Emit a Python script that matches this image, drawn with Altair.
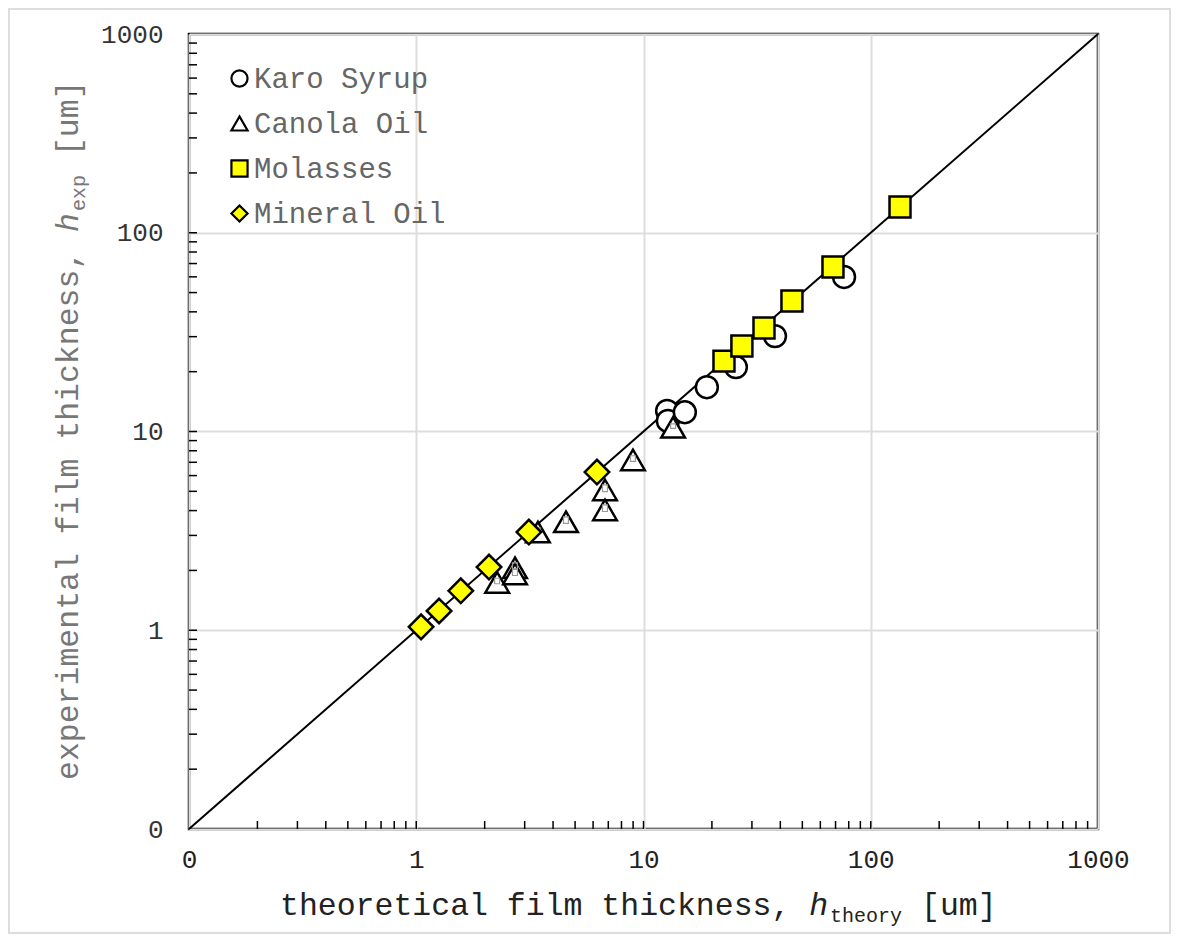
import altair as alt
import pandas as pd

# ---------------- data ----------------
SERIES = ["Karo Syrup", "Canola Oil", "Molasses", "Mineral Oil"]

KARO_X = [12.7, 12.8, 15.2, 19.0, 25.5, 37.9, 76.3]
KARO_Y = [12.7, 11.3, 12.5, 16.7, 21.1, 30.2, 59.9]

CANOLA_X = [2.27, 2.72, 2.72, 3.43, 4.56, 6.77, 6.77, 8.99, 13.5]
CANOLA_Y = [1.74, 2.06, 1.92, 3.12, 3.51, 5.08, 4.03, 7.19, 10.5]
CANOLA_ERR = [0.05, 0.06, 0.06, 0.05, 0.06, 0.06, 0.06, 0.05, 0.04]  # relative error

MOLASSES_X = [22.6, 27.1, 33.9, 45.0, 68.2, 134.5]
MOLASSES_Y = [22.6, 26.9, 33.2, 45.4, 67.3, 134.8]

MINERAL_X = [1.05, 1.26, 1.57, 2.09, 3.13, 6.24]
MINERAL_Y = [1.04, 1.25, 1.58, 2.08, 3.12, 6.25]

LINE_X = [0.1, 1000]
LINE_Y = [0.1, 1000]

MAJOR_TICKS = [0.1, 1, 10, 100, 1000]
MINOR_TICKS = [0.2, 0.3, 0.4, 0.5, 0.6, 0.7, 0.8, 0.9, 1,
               2, 3, 4, 5, 6, 7, 8, 9, 10,
               20, 30, 40, 50, 60, 70, 80, 90, 100,
               200, 300, 400, 500, 600, 700, 800, 900]

X_TITLE = ["theoretical film thickness,", "h", "theory", "[um]"]
Y_TITLE = ["experimental film thickness,", "h", "exp", "[um]"]

# ---------------- layout / style ----------------
W, H = 909, 795
FONT = "Liberation Mono"
FS_T = 31.5          # title font size
CW = FS_T * 0.6      # monospace advance
FS_SUB = 20
SUBW = FS_SUB * 0.6

SHAPES = ["circle", "triangle-up", "square", "diamond"]
FILLS = ["white", "white", "#ffff00", "#ffff00"]
STROKES = ["black", "black", "black", "black"]
SIZES = [480, 560, 440, 600]

XS = alt.Scale(type="log", domain=[0.1, 1000], nice=False)
YS = alt.Scale(type="log", domain=[0.1, 1000], nice=False)
LABEL_EXPR = "datum.value < 0.5 ? '0' : format(datum.value, 'd')"

AX_X = alt.Axis(values=MAJOR_TICKS, labelExpr=LABEL_EXPR, ticks=False, tickSize=0,
                domain=False, grid=True, gridColor="#dddddd", gridWidth=2,
                labelFont=FONT, labelFontSize=26, labelColor="#222222",
                labelPadding=17, labelFlush=False, labelOverlap=False, title=None)
AX_Y = alt.Axis(values=MAJOR_TICKS, labelExpr=LABEL_EXPR, ticks=False, tickSize=0,
                domain=False, grid=True, gridColor="#dddddd", gridWidth=2,
                labelFont=FONT, labelFontSize=26, labelColor="#333333",
                labelPadding=26, labelFlush=False, labelOverlap=False, title=None)

LEG = alt.Legend(orient="none", legendX=36, legendY=30, title=None, padding=0,
                 symbolSize=260, symbolStrokeWidth=2.2, symbolStrokeColor="black",
                 labelFont=FONT, labelFontSize=29, labelColor="#666666",
                 labelOffset=0, rowPadding=15, labelLimit=400)
SHAPE_SCALE = alt.Scale(domain=SERIES, range=SHAPES)
FILL_SCALE = alt.Scale(domain=SERIES, range=FILLS)
STROKE_SCALE = alt.Scale(domain=SERIES, range=STROKES)

diag = alt.Chart(pd.DataFrame({"x": LINE_X, "y": LINE_Y})).mark_line(
    color="black", strokeWidth=2).encode(
    x=alt.X("x:Q", scale=XS, axis=AX_X), y=alt.Y("y:Q", scale=YS, axis=AX_Y))

xticks = alt.Chart(pd.DataFrame({"v": MINOR_TICKS})).mark_rule(
    color="black", strokeWidth=1.5).encode(
    x=alt.X("v:Q", scale=XS, axis=AX_X), y=alt.value(H), y2=alt.value(H - 8))
yticks = alt.Chart(pd.DataFrame({"v": MINOR_TICKS})).mark_rule(
    color="black", strokeWidth=1.5).encode(
    y=alt.Y("v:Q", scale=YS, axis=AX_Y), x=alt.value(0), x2=alt.value(8))


def series_layer(name, xs, ys, size):
    d = pd.DataFrame({"series": [name] * len(xs), "x": xs, "y": ys})
    return alt.Chart(d).mark_point(filled=True, strokeWidth=2.5,
                                   opacity=1, size=size).encode(
        x=alt.X("x:Q", scale=XS, axis=AX_X),
        y=alt.Y("y:Q", scale=YS, axis=AX_Y),
        shape=alt.Shape("series:N", scale=SHAPE_SCALE, legend=LEG),
        fill=alt.Fill("series:N", scale=FILL_SCALE, legend=LEG),
        stroke=alt.Stroke("series:N", scale=STROKE_SCALE, legend=LEG),
    )


karo = series_layer(SERIES[0], KARO_X, KARO_Y, SIZES[0])
canola = series_layer(SERIES[1], CANOLA_X, CANOLA_Y, SIZES[1])
molasses = series_layer(SERIES[2], MOLASSES_X, MOLASSES_Y, SIZES[2])
mineral = series_layer(SERIES[3], MINERAL_X, MINERAL_Y, SIZES[3])

err_df = pd.DataFrame({
    "x0": [v * 0.975 for v in CANOLA_X], "x1": [v * 1.025 for v in CANOLA_X],
    "y0": [v * (1 - e * 0.3) for v, e in zip(CANOLA_Y, CANOLA_ERR)],
    "y1": [v * (1 + e) for v, e in zip(CANOLA_Y, CANOLA_ERR)],
})
errs = alt.Chart(err_df).mark_rect(fill=None, stroke="#9a9a9a", strokeWidth=1.2).encode(
    x=alt.X("x0:Q", scale=XS, axis=AX_X), x2="x1:Q",
    y=alt.Y("y0:Q", scale=YS, axis=AX_Y), y2="y1:Q")


def seg(text, x, y, size, color, style="normal", angle=0):
    return alt.Chart(pd.DataFrame({"t": [text]})).mark_text(
        font=FONT, fontSize=size, fontStyle=style, color=color, align="left",
        baseline="alphabetic", angle=angle).encode(
        x=alt.value(x), y=alt.value(y), text="t:N")


# x title pieces
xb = H + 86
x0 = 91
xh = x0 + 28 * CW
xs_ = xh + CW + 2
xu = xs_ + 6 * SUBW + CW
xcol = "#222222"
xt = [seg(X_TITLE[0], x0, xb, FS_T, xcol), seg(X_TITLE[1], xh, xb, FS_T, xcol, "italic"),
      seg(X_TITLE[2], xs_, xb + 7, FS_SUB, xcol), seg(X_TITLE[3], xu, xb, FS_T, xcol)]

# y title pieces (rotated)
yb = -111
y0 = 746
yh = y0 - 29 * CW
ys_ = yh - CW - 2
yu = ys_ - 3 * SUBW - CW
ycol = "#777777"
yt = [seg(Y_TITLE[0], yb, y0, FS_T, ycol, angle=270),
      seg(Y_TITLE[1], yb, yh, FS_T, ycol, "italic", 270),
      seg(Y_TITLE[2], yb + 7, ys_, FS_SUB, ycol, angle=270),
      seg(Y_TITLE[3], yb, yu, FS_T, ycol, angle=270)]

frame = alt.Chart(pd.DataFrame({"f": [0]})).mark_rect(
    fill=None, stroke="#dddddd", strokeWidth=2).encode(
    x=alt.value(-180), x2=alt.value(W + 72), y=alt.value(-25), y2=alt.value(H + 104))

chart = alt.layer(diag, xticks, yticks, karo, canola, errs, molasses, mineral,
                  *xt, *yt, frame).properties(
    width=W, height=H,
    autosize=alt.AutoSizeParams(type="none"),
    padding={"left": 181, "top": 26, "right": 74, "bottom": 105},
).configure_view(stroke="black", strokeWidth=2.5)

chart.save("out.html", embed_options={"renderer": "svg", "actions": False})
